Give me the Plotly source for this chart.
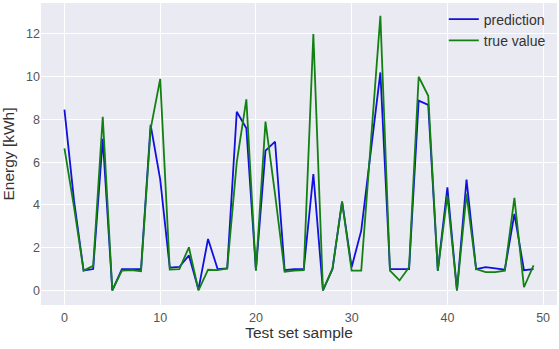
import plotly.graph_objects as go

samples = list(range(50))
prediction = [8.46, 4.2, 0.93, 1.0, 7.1, 0.0, 1.0, 1.0, 1.0, 7.75,
              5.2, 1.07, 1.1, 1.64, 0.05, 2.41, 1.0, 1.03, 8.36, 7.59,
              0.95, 6.54, 6.96, 0.95, 1.0, 1.0, 5.45, 0.0, 1.0, 4.16,
              1.09, 2.8, 6.5, 10.2, 1.0, 1.0, 1.0, 8.88, 8.68, 0.93,
              4.83, 0.0, 5.19, 1.0, 1.09, 1.03, 0.97, 3.58, 0.95, 1.0]
true_value = [6.65, 3.9, 0.93, 1.15, 8.13, 0.0, 0.93, 0.95, 0.9, 7.55,
              9.9, 0.98, 1.0, 2.02, 0.0, 0.97, 0.95, 1.03, 6.0, 8.94,
              0.93, 7.9, 4.5, 0.88, 0.93, 0.95, 12.0, 0.0, 1.03, 4.16,
              0.93, 0.93, 6.9, 12.85, 0.93, 0.47, 1.09, 10.0, 9.11, 0.93,
              4.44, 0.0, 4.52, 1.0, 0.86, 0.86, 0.93, 4.33, 0.15, 1.17]
x_ticks = [0, 10, 20, 30, 40, 50]
y_ticks = [0, 2, 4, 6, 8, 10, 12]

fig = go.Figure()
fig.add_trace(go.Scatter(x=samples, y=prediction, mode="lines", name="prediction",
                         line=dict(color="#1010e0", width=1.8)))
fig.add_trace(go.Scatter(x=samples, y=true_value, mode="lines", name="true value",
                         line=dict(color="#128012", width=1.8)))

font = "Liberation Sans, Arial, sans-serif"
fig.update_layout(
    width=559, height=349,
    margin=dict(l=41, r=2, t=3, b=44),
    paper_bgcolor="white",
    plot_bgcolor="#EAEAF2",
    font=dict(family=font, size=12, color="#444444"),
    showlegend=True,
    legend=dict(x=0.988, y=0.998, xanchor="right", yanchor="top",
                bgcolor="rgba(0,0,0,0)", font=dict(size=14, color="#333333"),
                itemwidth=30, tracegroupgap=0),
    xaxis=dict(range=[-2.45, 51.45], tickvals=x_ticks, showgrid=True, gridcolor="white",
               gridwidth=1, zeroline=False, showline=False, ticks="",
               ticklabelstandoff=3,
               title=dict(text="Test set sample", font=dict(size=15.5, color="#333333"), standoff=2),
               tickfont=dict(size=12.5, color="#555555")),
    yaxis=dict(range=[-0.68, 13.45], tickvals=y_ticks, showgrid=True, gridcolor="white",
               gridwidth=1, zeroline=False, showline=False, ticks="",
               title=dict(text="Energy [kWh]", font=dict(size=15.5, color="#333333"), standoff=8),
               tickfont=dict(size=12.5, color="#555555")),
)
fig.write_html("out.html")
